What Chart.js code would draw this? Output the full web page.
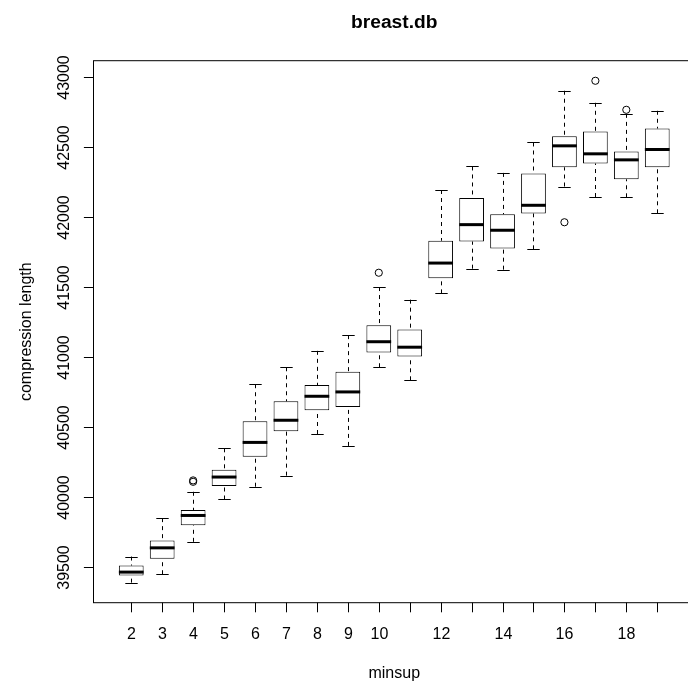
<!DOCTYPE html>
<html>
<head>
<meta charset="utf-8">
<title>breast.db</title>
<script src="https://cdn.jsdelivr.net/npm/chart.js@4.4.0/dist/chart.umd.min.js"></script>
<style>
  html, body { margin: 0; padding: 0; background: #fff; overflow: hidden; }
  #wrap { width: 700px; height: 690px; }
</style>
</head>
<body>
<div id="wrap"><canvas id="box-chart" width="700" height="690"></canvas></div>
<script>
// five number summaries per minsup value
const minsup      = [2, 3, 4, 5, 6, 7, 8, 9, 10, 11, 12, 13, 14, 15, 16, 17, 18, 19];
const whiskerLow  = [39391, 39451, 39682, 39984, 40075, 40154, 40451, 40366, 40927, 40834, 41454, 41630, 41623, 41768, 42216, 42141, 42139, 42025];
const lowerQ      = [39441, 39561, 39801, 40080, 40289, 40470, 40620, 40644, 41032, 41004, 41561, 41823, 41773, 42023, 42354, 42380, 42268, 42354];
const medians     = [39466, 39639, 39870, 40144, 40391, 40549, 40720, 40751, 41109, 41070, 41670, 41944, 41904, 42082, 42506, 42449, 42406, 42480];
const upperQ      = [39513, 39691, 39909, 40196, 40541, 40684, 40801, 40894, 41227, 41196, 41830, 42134, 42018, 42309, 42575, 42609, 42466, 42630];
const whiskerHigh = [39577, 39851, 40039, 40349, 40806, 40927, 41044, 41156, 41499, 41409, 42191, 42359, 42313, 42530, 42899, 42813, 42734, 42756];
const outlierX    = [4, 4, 10, 16, 17, 18];
const outlierY    = [40110, 40120, 41601, 41961, 42970, 42763];

const yTicks      = [39500, 40000, 40500, 41000, 41500, 42000, 42500, 43000];
const xTickLabels = ['2', '3', '4', '5', '6', '7', '8', '9', '10', '', '12', '', '14', '', '16', '', '18', ''];

const FONT = '"Liberation Sans", Arial, Helvetica, sans-serif';
const LINE = 19.2;          // one margin line in px
const TICK = LINE / 2;

// axis limits padded by 4% like base graphics
const allY = whiskerLow.concat(whiskerHigh, outlierY);
const yLo = Math.min(...allY), yHi = Math.max(...allY);
const yPad = (yHi - yLo) * 0.04;
const xPad = minsup.length * 0.04;
const xMin = minsup[0] - 0.5 - xPad;
const xMax = minsup[minsup.length - 1] + 0.5 + xPad;

const boxes = minsup.map((m, i) => ({ x: m, y: [lowerQ[i], upperQ[i]] }));
const outliers = outlierX.map((m, i) => ({ x: m, y: outlierY[i] }));

const boxPlot = {
  id: 'boxPlot',
  beforeDatasetsDraw(chart) {
    // dashed whiskers and staples
    const { ctx, scales: { x, y } } = chart;
    const bars = chart.getDatasetMeta(0).data;
    ctx.save();
    ctx.strokeStyle = '#000';
    ctx.lineWidth = 1;
    minsup.forEach((m, i) => {
      const px = Math.round(x.getPixelForValue(m)) + 0.5;
      const cap = bars[i].width / 4;
      [[whiskerHigh[i], upperQ[i]], [whiskerLow[i], lowerQ[i]]].forEach(([end, edge]) => {
        ctx.setLineDash([4, 4]);
        ctx.beginPath();
        ctx.moveTo(px, y.getPixelForValue(end));
        ctx.lineTo(px, y.getPixelForValue(edge));
        ctx.stroke();
        ctx.setLineDash([]);
        const py = Math.round(y.getPixelForValue(end)) + 0.5;
        ctx.beginPath();
        ctx.moveTo(px - cap, py);
        ctx.lineTo(px + cap, py);
        ctx.stroke();
      });
    });
    ctx.restore();
  },
  afterDatasetsDraw(chart) {
    // thick median bars
    const { ctx, scales: { y } } = chart;
    const bars = chart.getDatasetMeta(0).data;
    ctx.save();
    ctx.strokeStyle = '#000';
    ctx.lineWidth = 3;
    medians.forEach((v, i) => {
      const b = bars[i];
      const py = y.getPixelForValue(v);
      ctx.beginPath();
      ctx.moveTo(b.x - b.width / 2, py);
      ctx.lineTo(b.x + b.width / 2, py);
      ctx.stroke();
    });
    ctx.restore();
  },
  afterDraw(chart) {
    const { ctx, chartArea: a, scales: { x, y } } = chart;
    ctx.save();
    ctx.strokeStyle = '#000';
    ctx.fillStyle = '#000';
    ctx.lineWidth = 1;
    ctx.strokeRect(a.left, a.top, a.right - a.left, a.bottom - a.top);

    // x axis
    ctx.font = '16px ' + FONT;
    ctx.textAlign = 'center';
    ctx.textBaseline = 'alphabetic';
    x.ticks.forEach((t, i) => {
      const px = Math.round(x.getPixelForValue(t.value)) + 0.5;
      ctx.beginPath();
      ctx.moveTo(px, a.bottom);
      ctx.lineTo(px, a.bottom + TICK);
      ctx.stroke();
      ctx.fillText(xTickLabels[i], px, a.bottom + 36.5);
    });

    // y axis, labels parallel to the axis
    y.ticks.forEach(t => {
      const py = Math.round(y.getPixelForValue(t.value)) + 0.5;
      ctx.beginPath();
      ctx.moveTo(a.left, py);
      ctx.lineTo(a.left - TICK, py);
      ctx.stroke();
      ctx.save();
      ctx.translate(a.left - 24.5, py);
      ctx.rotate(-Math.PI / 2);
      ctx.fillText(String(t.value), 0, 0);
      ctx.restore();
    });

    const cx = (a.left + a.right) / 2;
    const cy = (a.top + a.bottom) / 2;
    ctx.fillText('minsup', cx, a.bottom + 36.5 + 2 * LINE);
    ctx.save();
    ctx.translate(a.left - 24.5 - 2 * LINE, cy);
    ctx.rotate(-Math.PI / 2);
    ctx.fillText('compression length', 0, 0);
    ctx.restore();

    ctx.font = 'bold 19.2px ' + FONT;
    ctx.fillText('breast.db', cx, 27.5);
    ctx.restore();
  }
};

new Chart(document.getElementById('box-chart'), {
  type: 'bar',
  data: {
    datasets: [{
      type: 'bar',
      data: boxes,
      backgroundColor: '#fff',
      borderColor: '#000',
      borderWidth: 1,
      borderSkipped: false,
      barPercentage: 0.8,
      categoryPercentage: 1.0
    }, {
      type: 'scatter',
      data: outliers,
      pointStyle: 'circle',
      pointRadius: 3.6,
      pointBorderWidth: 1,
      pointBorderColor: '#000',
      pointBackgroundColor: 'rgba(0,0,0,0)'
    }]
  },
  options: {
    responsive: false,
    animation: false,
    events: [],
    layout: { padding: { left: 93.5, top: 60.7, right: 4, bottom: 87.3 } },
    plugins: { legend: { display: false }, tooltip: { enabled: false }, title: { display: false } },
    scales: {
      x: {
        type: 'linear', display: false, offset: false,
        min: xMin, max: xMax,
        afterBuildTicks: s => { s.ticks = minsup.map(v => ({ value: v })); }
      },
      y: {
        type: 'linear', display: false, beginAtZero: false,
        min: yLo - yPad, max: yHi + yPad,
        afterBuildTicks: s => { s.ticks = yTicks.map(v => ({ value: v })); }
      }
    }
  },
  plugins: [boxPlot]
});
</script>
</body>
</html>
